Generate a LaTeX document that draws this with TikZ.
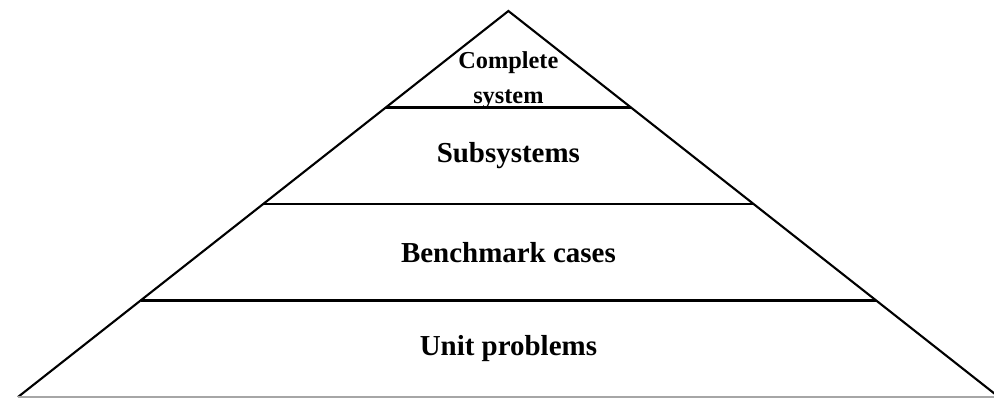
\documentclass[tikz,border=0pt]{standalone}
\usepackage{fontspec}
\setmainfont{Liberation Serif}
\usetikzlibrary{calc}
\tikzset{
  edge/.style={line width=1.5pt, draw=black},
  shelf/.style={line width=2pt, draw=black},
  floor/.style={line width=0.8pt, draw=black!35},
  layer/.style={font=\bfseries\fontsize{20.6}{24}\selectfont, align=center, inner sep=0pt},
  toplayer/.style={layer, font=\bfseries\fontsize{17.3}{24.9}\selectfont},
}

\begin{document}
\begin{tikzpicture}
  \useasboundingbox (0,0) rectangle (24.85,9.925);
  % pyramid outline
  \coordinate (apex) at (12.71,9.65);
  \coordinate (bl) at (0.45,0);
  \coordinate (br) at (24.97,0);
  \coordinate (bc) at ($(bl)!0.5!(br)$);
  \draw[edge, line join=miter] (bl) -- (apex) -- (br);
  \draw[floor] (bl) -- (br);
  % layer boundaries
  \foreach \t in {0.25,0.5,0.75}{
    \draw[shelf] ($(apex)!\t!(bl)$) -- ($(apex)!\t!(br)$);
  }
  % layer names
  \node[toplayer] (sys)   at ($(apex)!0.178!(bc)$) {Complete\\system};
  \node[layer]    (sub)   at ($(apex)!0.375!(bc)$) {Subsystems};
  \node[layer]    (bench) at ($(apex)!0.625!(bc)$) {Benchmark cases};
  \node[layer]    (unit)  at ($(apex)!0.875!(bc)$) {Unit problems};
\end{tikzpicture}
\end{document}
